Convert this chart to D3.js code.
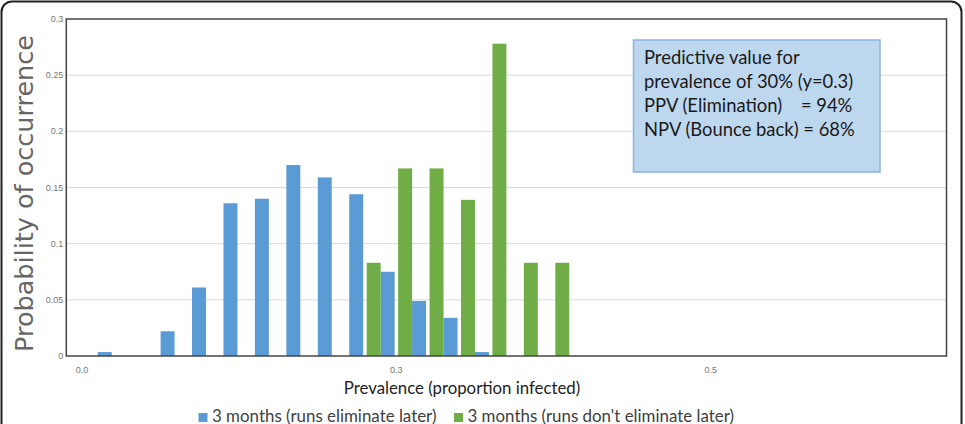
<!DOCTYPE html>
<html>
<head>
<meta charset="utf-8">
<script src="https://cdn.jsdelivr.net/npm/d3@7"></script>
<style>
  body { margin: 0; background: #fff; }
  svg { display: block; }
</style>
</head>
<body>
<svg id="chart" width="965" height="424"></svg>
<script>
// bins of prevalence, width 0.025
const categories = [0.000, 0.025, 0.050, 0.075, 0.100, 0.125, 0.150, 0.175, 0.200, 0.225,
                    0.250, 0.275, 0.300, 0.325, 0.350, 0.375, 0.400, 0.425, 0.450, 0.475,
                    0.500, 0.525, 0.550, 0.575, 0.600, 0.625, 0.650, 0.675];
const eliminateLater = [0, 0.0035, 0, 0.022, 0.061, 0.136, 0.140, 0.170, 0.159, 0.144,
                        0.075, 0.049, 0.034, 0.0035, 0, 0, 0, 0, 0, 0,
                        0, 0, 0, 0, 0, 0, 0, 0];
const bounceBack = [0, 0, 0, 0, 0, 0, 0, 0, 0, 0.083,
                    0.167, 0.167, 0.139, 0.278, 0.083, 0.083, 0, 0, 0, 0,
                    0, 0, 0, 0, 0, 0, 0, 0];
const seriesNames = ["3 months (runs eliminate later)", "3 months (runs don't eliminate later)"];
const seriesColors = ["#5b9bd5", "#70ad47"];
const yTicks = [0, 0.05, 0.1, 0.15, 0.2, 0.25, 0.3];
const yTickLabels = ["0", "0.05", "0.1", "0.15", "0.2", "0.25", "0.3"];
const xTicks = [0.000, 0.250, 0.500];
const xTickLabels = ["0.0", "0.3", "0.5"];
const boxLines = ["Predictive value for", "prevalence of 30% (y=0.3)",
                  "PPV (Elimination)    = 94%", "NPV (Bounce back) = 68%"];

const svg = d3.select("#chart");
const plotLeft = 66.3, plotRight = 946.5, plotTop = 19, plotBottom = 356;

// outer frame, rounded on top, runs off the bottom
svg.append("path")
    .attr("d", "M1.5,430 V12 A10.5,10.5 0 0 1 12,1.5 H951 A10.5,10.5 0 0 1 961.5,12 V430")
    .attr("fill", "none")
    .attr("stroke", "#222")
    .attr("stroke-width", 2);

let x = d3.scaleBand().domain(categories).range([plotLeft, plotRight]).padding(0);
let xs = d3.scaleBand().domain([0, 1]).range([0, x.bandwidth()]).paddingInner(0.2);
let y = d3.scaleLinear().domain([0, 0.3]).range([plotBottom, plotTop]);

// gridlines
svg.append("g").selectAll("line")
    .data(yTicks.slice(1, -1))
    .join("line")
    .attr("x1", plotLeft).attr("x2", plotRight)
    .attr("y1", d => y(d)).attr("y2", d => y(d))
    .attr("stroke", "#d9d9d9")
    .attr("stroke-width", 1);

// bars
let series = [eliminateLater, bounceBack];
series.forEach(function (vals, s) {
    svg.append("g").selectAll("rect")
        .data(categories.map((c, i) => ({ c: c, v: vals[i] })).filter(d => d.v > 0))
        .join("rect")
        .attr("x", d => x(d.c) + xs(s))
        .attr("width", xs.bandwidth())
        .attr("y", d => y(d.v))
        .attr("height", d => y(0) - y(d.v))
        .attr("fill", seriesColors[s]);
});

// plot frame
svg.append("rect")
    .attr("x", plotLeft).attr("y", plotTop)
    .attr("width", plotRight - plotLeft).attr("height", plotBottom - plotTop)
    .attr("fill", "none")
    .attr("stroke", "#444")
    .attr("stroke-width", 1.5);

// y tick labels
svg.append("g").selectAll("text")
    .data(yTicks)
    .join("text")
    .attr("x", plotLeft - 3)
    .attr("y", d => y(d) + 3)
    .attr("text-anchor", "end")
    .attr("font-family", "Liberation Sans, Arial, sans-serif")
    .attr("font-size", 9)
    .attr("fill", "#777")
    .text((d, i) => yTickLabels[i]);

// x tick labels
svg.append("g").selectAll("text")
    .data(xTicks)
    .join("text")
    .attr("x", d => x(d) + x.bandwidth() / 2)
    .attr("y", plotBottom + 17)
    .attr("text-anchor", "middle")
    .attr("font-family", "Liberation Sans, Arial, sans-serif")
    .attr("font-size", 9)
    .attr("fill", "#777")
    .text((d, i) => xTickLabels[i]);

// axis titles
svg.append("text")
    .attr("transform", "translate(33," + ((plotTop + plotBottom) / 2 + 6) + ") rotate(-90)")
    .attr("text-anchor", "middle")
    .attr("font-family", "DejaVu Sans, sans-serif")
    .attr("font-size", 25.5)
    .attr("fill", "#666")
    .text("Probability of occurrence");

svg.append("text")
    .attr("x", 462)
    .attr("y", 394)
    .attr("text-anchor", "middle")
    .attr("font-family", "Lato, sans-serif")
    .attr("font-size", 16.8)
    .attr("fill", "#222")
    .text("Prevalence (proportion infected)");

// legend
let legendX = [198.5, 454];
let legend = svg.append("g").selectAll("g")
    .data(seriesNames)
    .join("g")
    .attr("transform", (d, i) => "translate(" + legendX[i] + ",0)");
legend.append("rect")
    .attr("x", 0).attr("y", 413)
    .attr("width", 9).attr("height", 9)
    .attr("fill", (d, i) => seriesColors[i]);
legend.append("text")
    .attr("x", 13.5).attr("y", 421.5)
    .attr("font-family", "Lato, sans-serif")
    .attr("font-size", 16.9)
    .attr("fill", "#404040")
    .text(d => d);

// annotation box
svg.append("rect")
    .attr("x", 633.5).attr("y", 40)
    .attr("width", 246.5).attr("height", 132)
    .attr("fill", "#bdd7ee")
    .attr("stroke", "#8db4e2")
    .attr("stroke-width", 1.5);
svg.append("g").selectAll("text")
    .data(boxLines)
    .join("text")
    .attr("x", 644)
    .attr("y", (d, i) => 63.5 + i * 24.2)
    .attr("font-family", "Lato, sans-serif")
    .attr("font-size", 18.4)
    .attr("fill", "#1a1a1a")
    .style("white-space", "pre")
    .text(d => d);
</script>
</body>
</html>
